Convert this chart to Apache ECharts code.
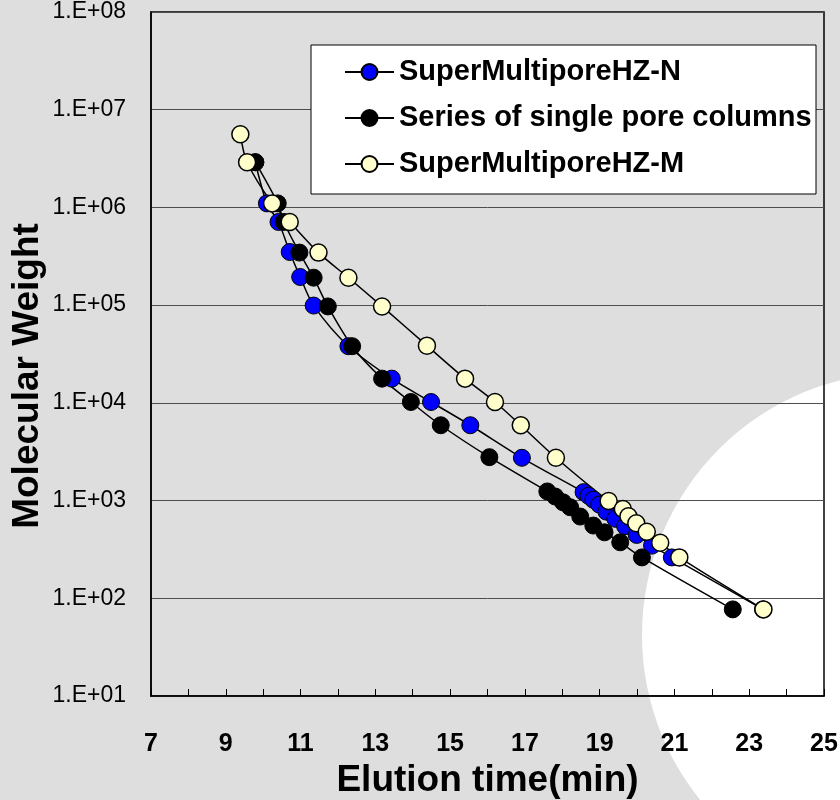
<!DOCTYPE html>
<html>
<head>
<meta charset="utf-8">
<title>calibration</title>
<script src="https://cdn.jsdelivr.net/npm/echarts@6/dist/echarts.min.js"></script>
<style>
  html, body { margin: 0; padding: 0; background: #dedede; }
  #main { width: 840px; height: 800px; }
</style>
</head>
<body>
<div id="main"></div>
<script>
// elution time (min) / molecular weight
var nTime = [9.79, 10.10, 10.41, 10.71, 10.99, 11.35, 12.28, 13.44, 14.49, 15.54, 16.92, 18.57, 18.70, 18.83, 18.99, 19.18, 19.42, 19.68, 19.99, 20.40, 20.93, 23.37];
var nMw   = [2.9e6, 1.1e6, 7.1e5, 3.5e5, 1.94e5, 9.9e4, 3.8e4, 1.77e4, 1.02e4, 5.9e3, 2.74e3, 1.22e3, 1.12e3, 1.02e3, 910, 770, 650, 546, 445, 346, 262, 77];

var sTime = [9.79, 10.39, 10.55, 10.97, 11.35, 11.73, 12.38, 13.18, 13.95, 14.75, 16.05, 17.60, 17.81, 18.02, 18.21, 18.48, 18.83, 19.13, 19.55, 20.13, 22.56];
var sMw   = [2.9e6, 1.1e6, 7.1e5, 3.45e5, 1.91e5, 9.7e4, 3.8e4, 1.77e4, 1.02e4, 5.9e3, 2.78e3, 1.24e3, 1.1e3, 960, 855, 686, 555, 473, 374, 262, 77];

var mTime = [9.39, 9.57, 10.24, 10.71, 11.48, 12.28, 13.18, 14.38, 15.40, 16.20, 16.89, 17.83, 19.24, 19.62, 19.77, 19.98, 20.26, 20.62, 21.13, 23.38];
var mMw   = [5.6e6, 2.9e6, 1.1e6, 7.1e5, 3.45e5, 1.91e5, 9.7e4, 3.85e4, 1.77e4, 1.02e4, 5.9e3, 2.74e3, 990, 820, 690, 585, 480, 370, 262, 77];

var names = ['SuperMultiporeHZ-N', 'Series of single pore columns', 'SuperMultiporeHZ-M'];

function pairs(xs, ys) {
  return xs.map(function (x, i) { return [x, ys[i]]; });
}

var font = 'Liberation Sans, Arial, sans-serif';

var myChart = echarts.init(document.getElementById('main'));
var option = {
  backgroundColor: '#dedede',
  animation: false,
  graphic: [
    { type: 'circle', z: -10, silent: true, shape: { cx: 905, cy: 635, r: 263 }, style: { fill: '#ffffff' } },
    { type: 'rect', z: 3, silent: true, shape: { x: 311, y: 45, width: 505, height: 149 }, style: { fill: '#ffffff', stroke: '#000', lineWidth: 1 } },
    { type: 'text', z: 5, silent: true, x: 28, y: 376, rotation: Math.PI / 2,
      style: { text: 'Molecular Weight', font: 'bold 37px ' + font, fill: '#000', align: 'center', verticalAlign: 'middle' } }
  ],
  legend: {
    data: names,
    orient: 'vertical',
    left: 339,
    top: 52,
    itemWidth: 49,
    itemHeight: 20,
    itemGap: 16,
    textStyle: { fontFamily: font, fontSize: 29, fontWeight: 'bold', color: '#000', lineHeight: 30 }
  },
  grid: {
    left: 151, right: 16, top: 12, bottom: 104,
    outerBoundsMode: 'none',
    show: true, borderColor: '#000', borderWidth: 1.5, backgroundColor: 'transparent'
  },
  xAxis: {
    type: 'value', min: 7, max: 25, interval: 1,
    name: 'Elution time(min)', nameLocation: 'middle', nameGap: 62,
    nameTextStyle: { fontFamily: font, fontSize: 37, fontWeight: 'bold', color: '#000' },
    axisLine: { lineStyle: { color: '#000', width: 1.5 } },
    axisTick: { inside: true, length: 7, lineStyle: { color: '#000', width: 1 } },
    axisLabel: {
      margin: 36, fontFamily: font, fontSize: 25, fontWeight: 'bold', color: '#000',
      formatter: function (v) { return v % 2 === 1 ? String(v) : ''; }
    },
    splitLine: { show: false }
  },
  yAxis: {
    type: 'log', logBase: 10, min: 10, max: 1e8,
    axisLine: { lineStyle: { color: '#000', width: 1.5 } },
    axisTick: { show: false },
    axisLabel: {
      margin: 25, fontFamily: font, fontSize: 23, color: '#000',
      formatter: function (v) {
        var e = Math.round(Math.log(v) / Math.LN10);
        return '1.E+' + (e < 10 ? '0' : '') + e;
      }
    },
    splitLine: { lineStyle: { color: '#4d4d4d', width: 1 } }
  },
  series: [
    {
      name: names[0], type: 'line', smooth: 0.3, symbol: 'circle', symbolSize: 17,
      data: pairs(nTime, nMw),
      lineStyle: { color: '#000', width: 1.5 },
      itemStyle: { color: '#0000ff', borderColor: '#000', borderWidth: 1 }
    },
    {
      name: names[1], type: 'line', smooth: 0.3, symbol: 'circle', symbolSize: 17,
      data: pairs(sTime, sMw),
      lineStyle: { color: '#000', width: 1.5 },
      itemStyle: { color: '#000', borderColor: '#000', borderWidth: 1 }
    },
    {
      name: names[2], type: 'line', smooth: 0.3, symbol: 'circle', symbolSize: 17,
      data: pairs(mTime, mMw),
      lineStyle: { color: '#000', width: 1.5 },
      itemStyle: { color: '#ffffcc', borderColor: '#000', borderWidth: 1.5 }
    }
  ]
};
myChart.setOption(option);
</script>
</body>
</html>
